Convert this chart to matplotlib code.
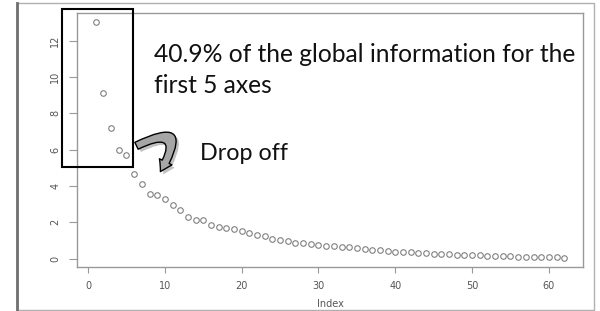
import matplotlib
matplotlib.use("Agg")
import matplotlib.pyplot as plt
from matplotlib import patches
from matplotlib import patheffects as pe
import numpy as np

# eigenvalues
eigenvalues = [13.0, 9.1, 7.2, 6.0, 5.7, 4.65, 4.1, 3.55, 3.5, 3.3,
               2.95, 2.65, 2.3, 2.1, 2.1, 1.82, 1.76, 1.69, 1.6, 1.5,
               1.4, 1.3, 1.22, 1.1, 1.02, 0.95, 0.88, 0.84, 0.8, 0.75,
               0.7, 0.67, 0.64, 0.62, 0.58, 0.53, 0.49, 0.45, 0.41, 0.38,
               0.36, 0.34, 0.32, 0.30, 0.27, 0.25, 0.24, 0.22, 0.2, 0.18,
               0.17, 0.15, 0.14, 0.13, 0.12, 0.11, 0.10, 0.09, 0.08, 0.07,
               0.06, 0.05]
index = np.arange(1, len(eigenvalues) + 1)
xticks = [0, 10, 20, 30, 40, 50, 60]
yticks = [0, 2, 4, 6, 8, 10, 12]
note_text = "40.9% of the global information for the\nfirst 5 axes"
drop_text = "Drop off"

W, H = 600, 311
fig = plt.figure(figsize=(W / 100, H / 100), dpi=100)
ax = fig.add_axes([77 / W, 1 - 267 / H, 506 / W, 254 / H])

grey = "#808080"
ax.plot(index, eigenvalues, "o", mfc="none", mec=grey, ms=4.0, mew=0.8)

# R style padding of 4%
xr = index.max() - index.min()
yr = max(eigenvalues) - min(eigenvalues)
ax.set_xlim(index.min() - 0.04 * xr, index.max() + 0.04 * xr)
ax.set_ylim(min(eigenvalues) - 0.04 * yr, max(eigenvalues) + 0.04 * yr)

ax.set_xticks(xticks)
ax.set_yticks(yticks)
for s in ax.spines.values():
    s.set_color("#999999")
    s.set_linewidth(1.0)
ax.tick_params(axis="x", length=4, width=0.8, color="#999999", pad=6,
               labelsize=7, labelcolor="#555555")
ax.tick_params(axis="y", length=6, width=0.8, color="#999999", pad=6,
               labelsize=7, labelcolor="#555555", labelrotation=90)
for lab in ax.get_yticklabels():
    lab.set_va("center")
ax.set_xlabel("Index", fontsize=7, color="#555555", labelpad=6)

# outer frame of the slide picture
fig.add_artist(patches.Rectangle((17 / W, 1 - 310 / H), 577 / W, 307 / H,
                                 transform=fig.transFigure, fill=False,
                                 ec="#b0b0b0", lw=1.0))
fig.add_artist(plt.Line2D([17 / W, 17 / W], [1 - 310 / H, 1 - 3 / H],
                          transform=fig.transFigure, color="#707070", lw=2))

# box around the first 5 points
fig.add_artist(patches.Rectangle((62 / W, 1 - 167 / H), 71 / W, 158 / H,
                                 transform=fig.transFigure, fill=False,
                                 ec="black", lw=1.5))

# text annotations
fig.text(154 / W, 1 - 70 / H, note_text, fontsize=17.7, family="Lato",
         va="center", ha="left", linespacing=1.38, color="#111111")
fig.text(200 / W, 1 - 153 / H, drop_text, fontsize=16.8, family="Lato",
         va="center", ha="left", color="#111111")

# curved arrow
arr = patches.FancyArrowPatch((134 / W, 1 - 147 / H), (159 / W, 1 - 174 / H),
                              transform=fig.transFigure,
                              connectionstyle="arc3,rad=-1.7",
                              arrowstyle="simple,head_width=10,head_length=8,tail_width=5.5",
                              fc="#a6a6a6", ec="black", lw=1.0)
arr.set_path_effects([pe.SimplePatchShadow(offset=(2, -2), alpha=0.3), pe.Normal()])
fig.add_artist(arr)

fig.savefig("out.png", dpi=100)
